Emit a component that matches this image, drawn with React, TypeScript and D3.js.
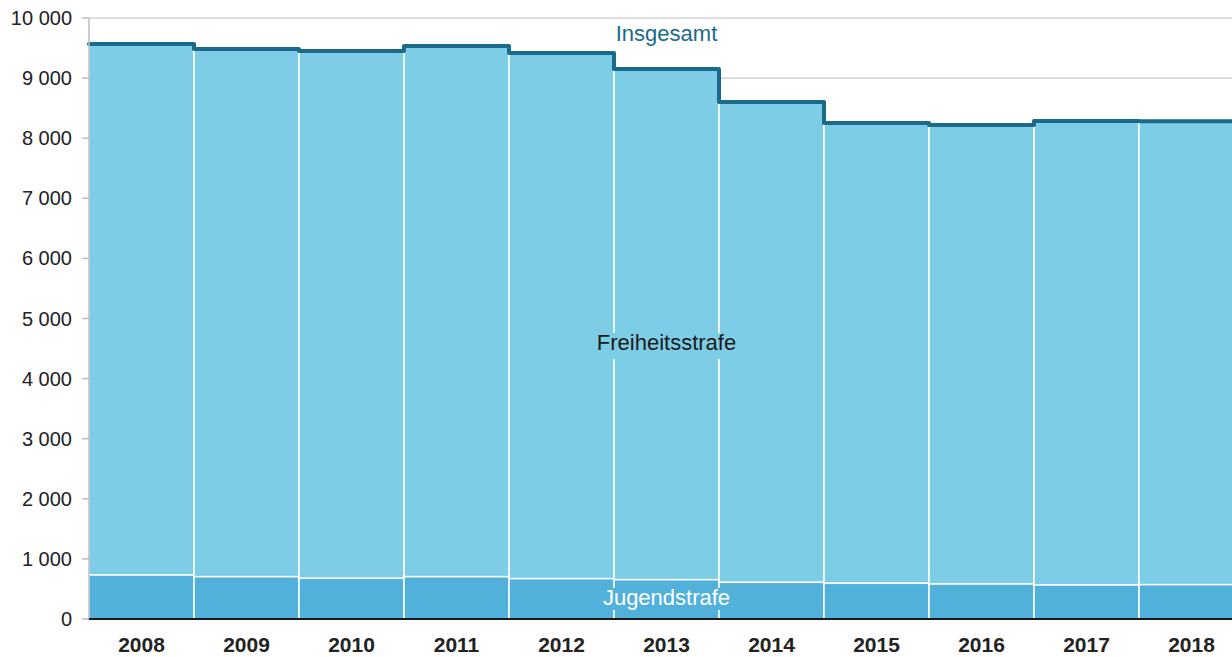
import React from "react";
import * as d3 from "d3";

const years = ["2008", "2009", "2010", "2011", "2012", "2013", "2014", "2015", "2016", "2017", "2018"];
const jugendstrafe = [732, 704, 677, 704, 671, 654, 610, 594, 582, 566, 571];
const freiheitsstrafe = [8835, 8780, 8774, 8830, 8747, 8497, 7992, 7659, 7638, 7720, 7709];
const yTicks = [0, 1000, 2000, 3000, 4000, 5000, 6000, 7000, 8000, 9000, 10000];

const W = 1232;
const H = 657;
const left = 89;
const band = 105;
const top = 18;
const bottom = 619;

const C_FREI = "#7ECDE6";
const C_JUG = "#52B1DA";
const C_LINE = "#1B6A8C";
const FONT = "'Liberation Sans', Arial, Helvetica, sans-serif";

const fmt = d3.formatLocale({ decimal: ",", thousands: "\u00a0", grouping: [3], currency: ["", "€"] }).format(",d");

export default function App() {
  const x = d3.scaleBand<string>().domain(years).range([left, left + band * years.length]).padding(0);
  const y = d3.scaleLinear().domain([0, 10000]).range([bottom, top]);
  const totals = years.map((_, i) => jugendstrafe[i] + freiheitsstrafe[i]);

  const pts: [number, number][] = years.map((yr, i) => [x(yr)!, y(totals[i])]);
  pts.push([x(years[years.length - 1])! + x.bandwidth(), y(totals[totals.length - 1])]);
  const stepLine = d3.line().curve(d3.curveStepAfter)(pts) || "";

  const midYear = "2013";
  const cx = x(midYear)! + x.bandwidth() / 2;

  return (
    <div style={{ position: "fixed", left: 0, top: 0, width: W, height: H, background: "#fff" }}>
      <svg width={W} height={H} style={{ display: "block" }} fontFamily={FONT}>
        {/* gridlines */}
        {yTicks.filter((t) => t > 0).map((t) => (
          <line key={"g" + t} x1={left} x2={W} y1={y(t)} y2={y(t)} stroke="#bdbdbd" strokeWidth={1} />
        ))}
        {/* bars */}
        {years.map((yr, i) => (
          <g key={yr}>
            <rect
              x={x(yr)!}
              y={y(jugendstrafe[i] + freiheitsstrafe[i])}
              width={x.bandwidth()}
              height={y(jugendstrafe[i]) - y(jugendstrafe[i] + freiheitsstrafe[i])}
              fill={C_FREI}
              stroke="#fff"
              strokeWidth={1.5}
            />
            <rect
              x={x(yr)!}
              y={y(jugendstrafe[i])}
              width={x.bandwidth()}
              height={y(0) - y(jugendstrafe[i])}
              fill={C_JUG}
              stroke="#fff"
              strokeWidth={1.5}
            />
          </g>
        ))}
        {/* total step line */}
        <path d={stepLine} fill="none" stroke={C_LINE} strokeWidth={4} strokeLinejoin="round" strokeLinecap="round" />
        {/* y axis */}
        <line x1={left} x2={left} y1={top} y2={bottom} stroke="#bdbdbd" strokeWidth={1.5} />
        {yTicks.map((t) => (
          <g key={"t" + t}>
            <line x1={left - 7} x2={left} y1={y(t)} y2={y(t)} stroke="#bdbdbd" strokeWidth={1.5} />
            <text x={72} y={y(t)} dy="0.35em" textAnchor="end" fontSize={20} fill="#222">
              {fmt(t)}
            </text>
          </g>
        ))}
        {/* baseline */}
        <line x1={left} x2={W} y1={bottom} y2={bottom} stroke="#1a1a1a" strokeWidth={2} />
        {/* x labels */}
        {years.map((yr) => (
          <text key={"x" + yr} x={x(yr)! + x.bandwidth() / 2} y={652} textAnchor="middle" fontSize={21} fontWeight="bold" fill="#222">
            {yr}
          </text>
        ))}
        {/* series labels */}
        <text x={cx} y={41} textAnchor="middle" fontSize={22} fill={C_LINE}>Insgesamt</text>
        <rect x={cx - 73} y={333} width={146} height={26} fill={C_FREI} />
        <text x={cx} y={350} textAnchor="middle" fontSize={22} fill="#1a1a1a">Freiheitsstrafe</text>
        <rect x={cx - 66} y={588} width={132} height={22} fill={C_JUG} />
        <text x={cx} y={605} textAnchor="middle" fontSize={22} fill="#fff">Jugendstrafe</text>
      </svg>
    </div>
  );
}
